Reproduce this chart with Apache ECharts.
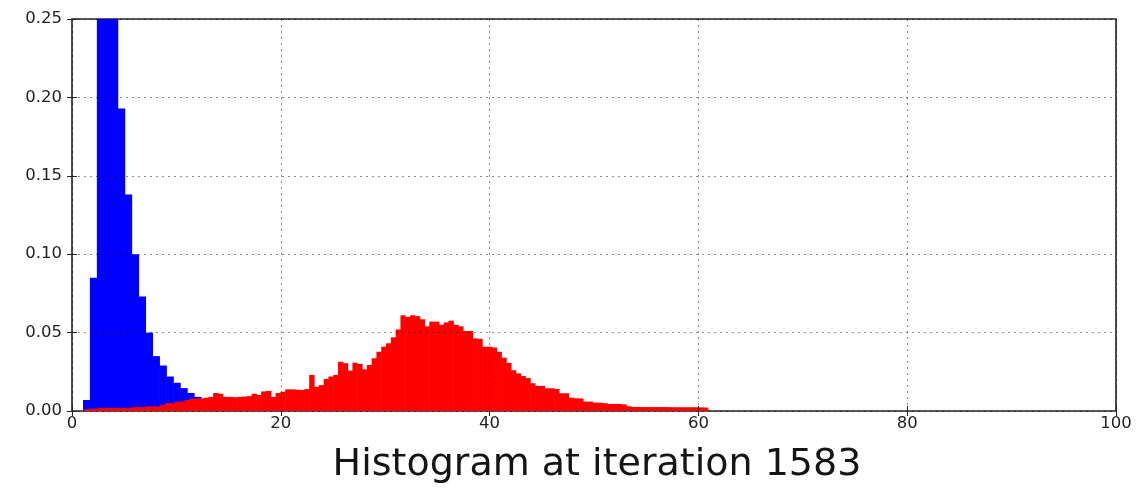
<!DOCTYPE html>
<html>
<head>
<meta charset="utf-8">
<script src="https://cdn.jsdelivr.net/npm/echarts@6/dist/echarts.min.js"></script>
<style>
  html, body { margin: 0; padding: 0; background: #fff; }
  #chart { width: 1140px; height: 489px; }
</style>
</head>
<body>
<div id="chart"></div>
<script>
// Histogram bins: first edge, bin width, and density per bin
const blueStart = 1.05;
const blueWidth = 0.665;
const blueDensity = [
  0.007, 0.085, 0.30, 0.33, 0.28, 0.193, 0.138, 0.100, 0.073, 0.050,
  0.035, 0.029, 0.022, 0.018, 0.0146, 0.0115, 0.009, 0.007, 0.0055, 0.0045,
  0.0035, 0.003, 0.0025, 0.002, 0.0015, 0.001
];

const redStart = 1.1;
const redWidth = 0.46;
const redDensity = [
  0.001, 0.0015, 0.0015, 0.002, 0.002, 0.002, 0.002, 0.002, 0.002, 0.002,
  0.0025, 0.0025, 0.0025, 0.003, 0.003, 0.003, 0.004, 0.005, 0.005, 0.006,
  0.006, 0.007, 0.0077, 0.008, 0.008, 0.0085, 0.009, 0.0115, 0.011, 0.009,
  0.009, 0.0088, 0.009, 0.0092, 0.0095, 0.011, 0.0102, 0.0125, 0.0128, 0.009,
  0.0115, 0.0123, 0.0138, 0.0138, 0.0136, 0.0134, 0.014, 0.023, 0.0155, 0.0165,
  0.0204, 0.022, 0.023, 0.0314, 0.0305, 0.0257, 0.0308, 0.030, 0.0266, 0.0293,
  0.0336, 0.0378, 0.041, 0.0432, 0.047, 0.052, 0.061, 0.060, 0.061, 0.0605,
  0.0585, 0.054, 0.057, 0.057, 0.055, 0.0565, 0.0576, 0.055, 0.054, 0.051,
  0.051, 0.0463, 0.046, 0.041, 0.041, 0.0405, 0.0378, 0.034, 0.0306, 0.026,
  0.024, 0.0223, 0.021, 0.0177, 0.016, 0.016, 0.0145, 0.0145, 0.014, 0.0113,
  0.0113, 0.0085, 0.0081, 0.008, 0.006, 0.006, 0.0053, 0.0053, 0.005, 0.0045,
  0.0045, 0.0045, 0.0042, 0.003, 0.0026, 0.0026, 0.0025, 0.0025, 0.0025, 0.0025,
  0.0025, 0.0025, 0.0024, 0.0024, 0.0024, 0.0024, 0.0024, 0.0024, 0.0023, 0.0022
];

const xTicks = [0, 20, 40, 60, 80, 100];
const yTicks = [0.00, 0.05, 0.10, 0.15, 0.20, 0.25];
const titleText = 'Histogram at iteration 1583';

function toBins(start, width, values) {
  return values.map((v, i) => [start + i * width, start + (i + 1) * width, v]);
}

function renderBin(params, api) {
  const p0 = api.coord([api.value(0), 0]);
  const p1 = api.coord([api.value(1), api.value(2)]);
  const rect = echarts.graphic.clipRectByRect({
    x: p0[0], y: p1[1], width: p1[0] - p0[0] + 0.6, height: p0[1] - p1[1]
  }, {
    x: params.coordSys.x, y: params.coordSys.y,
    width: params.coordSys.width, height: params.coordSys.height
  });
  return rect && { type: 'rect', shape: rect, style: { fill: api.visual('color') } };
}

const font = 'DejaVu Sans';
const gridStyle = { show: true, lineStyle: { color: 'rgba(0,0,0,0.45)', type: [2, 4], width: 1 } };
const tickStyle = { show: true, inside: true, length: 5, lineStyle: { color: '#222', width: 1 } };

const chart = echarts.init(document.getElementById('chart'), null, { renderer: 'canvas' });
chart.setOption({
  animation: false,
  backgroundColor: '#fff',
  title: {
    text: titleText,
    left: 592, top: 441, textAlign: 'center',
    textStyle: { fontFamily: font, fontSize: 38, fontWeight: 'normal', color: '#151515' }
  },
  grid: {
    left: 72, right: 24, top: 19, bottom: 78,
    show: true, borderColor: '#222', borderWidth: 1.6, backgroundColor: 'transparent'
  },
  xAxis: [{
    type: 'value', min: xTicks[0], max: xTicks[xTicks.length - 1], interval: 20,
    z: 5,
    axisLine: { show: false },
    axisTick: tickStyle,
    splitLine: gridStyle,
    axisLabel: { fontFamily: font, fontSize: 16.5, color: '#222', margin: 4 }
  }, {
    type: 'value', position: 'top', min: xTicks[0], max: xTicks[xTicks.length - 1], interval: 20,
    z: 5,
    axisLine: { show: false }, axisTick: tickStyle, splitLine: { show: false }, axisLabel: { show: false }
  }],
  yAxis: [{
    type: 'value', min: yTicks[0], max: yTicks[yTicks.length - 1], interval: 0.05,
    z: 5,
    axisLine: { show: false },
    axisTick: tickStyle,
    splitLine: gridStyle,
    axisLabel: {
      fontFamily: font, fontSize: 16.5, color: '#222', margin: 10,
      formatter: v => v.toFixed(2)
    }
  }, {
    type: 'value', position: 'right', min: yTicks[0], max: yTicks[yTicks.length - 1], interval: 0.05,
    z: 5,
    axisLine: { show: false }, axisTick: tickStyle, splitLine: { show: false }, axisLabel: { show: false }
  }],
  series: [{
    type: 'custom', name: 'blue', z: 2,
    renderItem: renderBin,
    itemStyle: { color: '#0000ff' },
    encode: { x: [0, 1], y: 2 },
    data: toBins(blueStart, blueWidth, blueDensity)
  }, {
    type: 'custom', name: 'red', z: 3,
    renderItem: renderBin,
    itemStyle: { color: '#ff0000' },
    encode: { x: [0, 1], y: 2 },
    data: toBins(redStart, redWidth, redDensity)
  }]
});
</script>
</body>
</html>
